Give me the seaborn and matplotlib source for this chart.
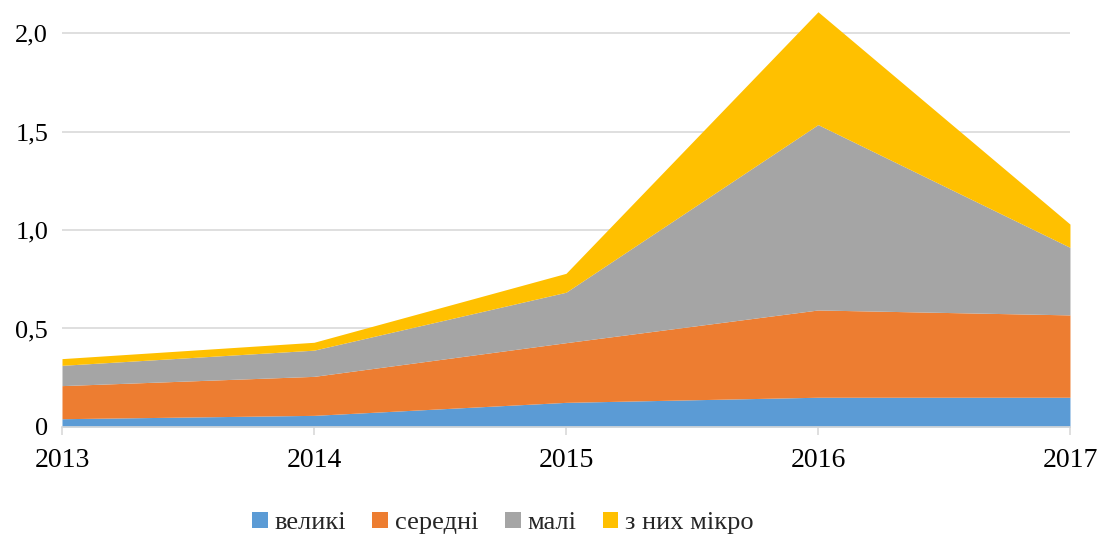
import numpy as np
import pandas as pd
import matplotlib
matplotlib.use("Agg")
import matplotlib.pyplot as plt
import seaborn as sns

years = [2013, 2014, 2015, 2016, 2017]
labels = ["великі", "середні", "малі", "з них мікро"]
velyki = [0.042, 0.059, 0.125, 0.151, 0.151]
seredni = [0.168, 0.198, 0.303, 0.443, 0.418]
mali = [0.103, 0.133, 0.256, 0.941, 0.343]
mikro = [0.034, 0.040, 0.096, 0.573, 0.118]
colors = ["#5B9BD5", "#ED7D31", "#A5A5A5", "#FFC000"]
ytick_vals = [0, 0.5, 1.0, 1.5, 2.0]
ytick_labels = ["0", "0,5", "1,0", "1,5", "2,0"]

df = pd.DataFrame({"year": years, labels[0]: velyki, labels[1]: seredni,
                   labels[2]: mali, labels[3]: mikro})

sns.set_theme(style="white")
plt.rcParams['font.family'] = ['Liberation Serif', 'DejaVu Serif']

fig = plt.figure(figsize=(11.05, 5.34), dpi=100)
ax = fig.add_axes([0.0561, 0.2004, 0.9122, 0.7776])

ax.stackplot(df["year"], [df[l] for l in labels], colors=colors,
             labels=labels, linewidth=0)

ax.set_xlim(2013, 2017)
ax.set_ylim(0, 2.108)
ax.set_yticks(ytick_vals)
ax.set_yticklabels(ytick_labels)
ax.set_xticks(years)
ax.set_xticklabels([str(y) for y in years])
ax.yaxis.grid(True, color="#D9D9D9", linewidth=1.2)
ax.set_axisbelow(True)
for s in ["top", "right", "left"]:
    ax.spines[s].set_visible(False)
ax.spines["bottom"].set_color("#D9D9D9")
ax.spines["bottom"].set_linewidth(1.2)
ax.tick_params(axis="x", length=6, color="#D9D9D9", width=1.2, pad=9,
               labelsize=20, labelcolor="black", bottom=True)
ax.tick_params(axis="y", length=0, pad=10, labelsize=19, labelcolor="black")
ax.set_xlabel("")
ax.set_ylabel("")

handles, lbls = ax.get_legend_handles_labels()
fig.legend(handles, lbls, loc="lower center", bbox_to_anchor=(0.455, -0.045),
           ncol=4, frameon=False, fontsize=19, handlelength=0.6,
           handleheight=0.6, handletextpad=0.25, columnspacing=1.0)

fig.savefig("out.png", dpi=100)
